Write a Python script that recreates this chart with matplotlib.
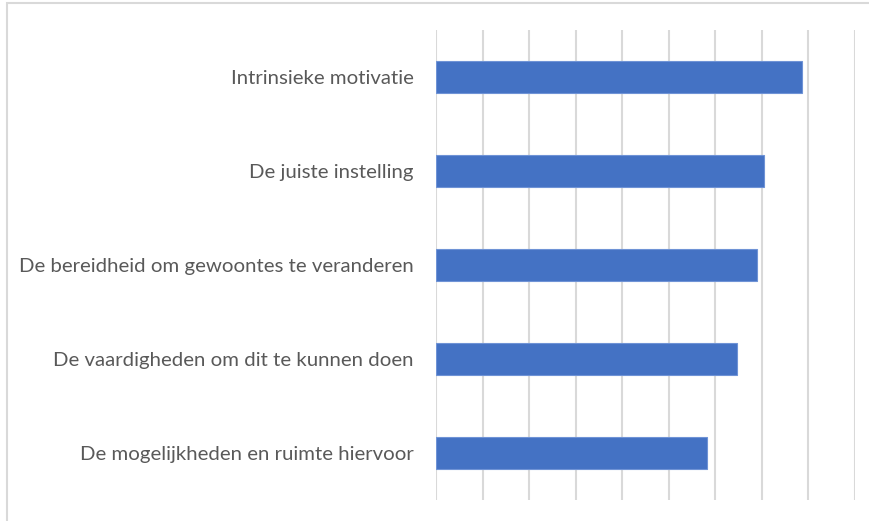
import matplotlib.pyplot as plt
from matplotlib.patches import Rectangle

categories = [
    'De mogelijkheden en ruimte hiervoor',
    'De vaardigheden om dit te kunnen doen',
    'De bereidheid om gewoontes te veranderen',
    'De juiste instelling',
    'Intrinsieke motivatie',
]
values = [5.82, 6.46, 6.90, 7.05, 7.86]

fig = plt.figure(figsize=(8.69, 5.21), dpi=100)
ax = fig.add_axes([436 / 869, 21 / 521, 419 / 869, 470 / 521])

ax.barh(categories, values, height=0.34, color='#4472C4', edgecolor='#6f93d6', linewidth=0.8, zorder=3)

ax.set_xlim(0, 9)
ax.set_ylim(-0.5, 4.5)
ax.set_xticks(range(0, 10))
ax.tick_params(axis='x', length=0, labelbottom=False)
ax.tick_params(axis='y', length=0, pad=16, labelsize=14.7, labelcolor='#595959')
for lbl in ax.get_yticklabels():
    lbl.set_fontfamily('Lato')
ax.grid(axis='x', color='#d9d9d9', linewidth=1.5, zorder=0)
for s in ax.spines.values():
    s.set_visible(False)

# light frame of the chart area (only left and top edges are inside the picture)
fig.patches.append(Rectangle((7 / 869, -0.1), 1.2, (518 / 521) + 0.1, transform=fig.transFigure,
                             fill=False, edgecolor='#d9d9d9', linewidth=1.5))

fig.savefig('out.png', dpi=100)
